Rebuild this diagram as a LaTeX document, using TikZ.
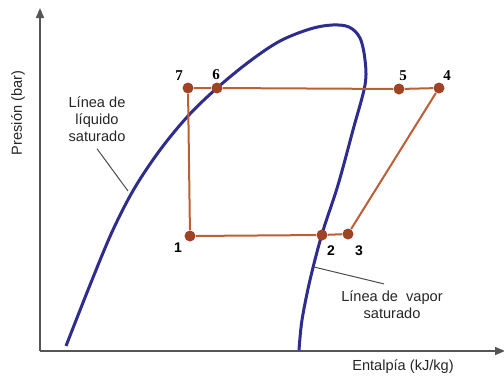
\documentclass[tikz,border=0pt]{standalone}
\usepackage{fontspec}
\setmainfont{Liberation Sans}
\newfontfamily\numfont{Liberation Serif}
\usetikzlibrary{arrows.meta}
\definecolor{myBlue}{RGB}{46,44,140}
\definecolor{myRust}{RGB}{188,94,54}
\definecolor{myDot}{RGB}{160,66,36}
\definecolor{myAxis}{RGB}{85,85,85}

\begin{document}
\begin{tikzpicture}[
  x=0.5pt, y=-0.5pt,
  pt/.style={circle, fill=myDot, inner sep=0pt, minimum size=5.5pt},
  num/.style={font=\numfont\bfseries\fontsize{7.5}{9}\selectfont},
  snum/.style={font=\rmfamily\bfseries\fontsize{7}{9}\selectfont},
  lbl/.style={font=\fontsize{7.3}{8.6}\selectfont, align=center, text=black!85},
  cyc/.style={myRust, line width=1pt},
]
  \useasboundingbox (0,0) rectangle (504,377);

  % axes
  \coordinate (O) at (40,351);
  \coordinate (ytop) at (40,8);
  \coordinate (xend) at (505,351);
  \draw[myAxis, line width=0.8pt, -{Triangle[length=5pt,width=4pt]}] (O) -- (ytop);
  \draw[myAxis, line width=0.8pt, -{Triangle[length=5pt,width=4pt]}] (O) -- (xend);
  \node[lbl, rotate=90] (ylbl) at (18,113) {Presión (bar)};
  \node[lbl] (xlbl) at (403,367) {Entalpía (kJ/kg)};

  % saturation dome
  \draw[myBlue, line width=1.5pt] plot[smooth, tension=0.55] coordinates {
    (66,346) (90,285) (112,232) (134,189) (160,150) (188,116) (217,88)
    (250,61) (280,41) (310,29) (332,25) (349,27) (360,38) (365,60)
    (365,85) (353,130) (338,185) (322,234) (310,280) (302,320) (299,350)};

  % cycle points
  \node[pt] (p7) at (188,88) {};
  \node[pt] (p6) at (217,88) {};
  \node[pt] (p5) at (399,89) {};
  \node[pt] (p4) at (439,88) {};
  \node[pt] (p1) at (190,236) {};
  \node[pt] (p2) at (322,235) {};
  \node[pt] (p3) at (348,234) {};

  \draw[cyc] (p7) -- (p1) -- (p2) -- (p3) -- (p4) -- (p5) -- (p6) -- (p7);

  \node[num] (n7) at (179,76) {7};
  \node[num] (n6) at (216,75) {6};
  \node[num] (n5) at (403,76) {5};
  \node[num] (n4) at (447,76) {4};
  \node[snum] (n1) at (178,248) {1};
  \node[snum] (n2) at (331,251) {2};
  \node[snum] (n3) at (359,251) {3};

  % line labels
  \node[lbl] (liq) at (97,119) {Línea de\\líquido\\saturado};
  \coordinate (liqtip) at (128,191);
  \draw[black!70, line width=0.5pt] (liq.south) -- (liqtip);

  \node[lbl] (vap) at (392,305) {Línea de\ \ vapor\\saturado};
  \coordinate (vaptip) at (314,267);
  \draw[black!70, line width=0.5pt] (vaptip) -- ([xshift=-4pt]vap.north);
\end{tikzpicture}
\end{document}
